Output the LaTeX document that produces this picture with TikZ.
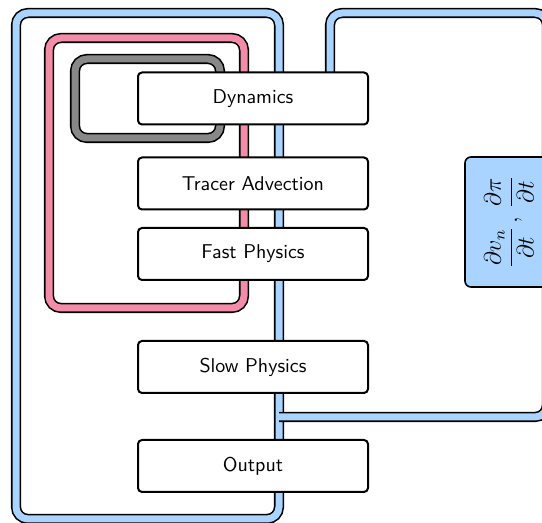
\documentclass[tikz,border=0pt]{standalone}
\usepackage{amsmath}
\usepackage{xcolor}
\usepackage{tikz}
\usetikzlibrary{positioning}
\definecolor{lblue}{HTML}{A8D4FF}
\definecolor{lpink}{HTML}{F28CA8}
\definecolor{lgray}{HTML}{888888}
\tikzset{
  sloop/.style={draw=black, line width=0.8pt, double=#1, double distance=3.5pt,
                rounded corners=6pt},
  sbox/.style={draw=black, fill=white, line width=1pt, rounded corners=2pt,
               minimum width=115pt, minimum height=26pt, font=\sffamily},
  sfrac/.style={draw=black, fill=lblue, line width=0.8pt, rounded corners=3pt,
                minimum width=65pt, minimum height=44pt, rotate=90, inner sep=2pt},
}

\begin{document}
\begin{tikzpicture}[x=0.5pt,y=0.5pt]

  \useasboundingbox (0,0) rectangle (542,523);
  \clip (0,0) rectangle (542,523);

  % outer loop (whole step) and the loop on the right
  \draw[sloop=lblue] (16,4) rectangle (279,510);
  \draw[sloop=lblue] (279,106) -- (547,106) -- (547,510) -- (330,510) -- (330,423);

  % inner loops
  \draw[sloop=lpink] (49,215) rectangle (244,485);
  \draw[sloop=lgray] (75,385) rectangle (220,464);

  % steps
  \node[sbox] (dyn)    at (253,424.5) {Dynamics};
  \node[sbox] (tracer) at (253,339.5) {Tracer Advection};
  \node[sbox] (fast)   at (253,269)   {Fast Physics};
  \node[sbox] (slow)   at (253,156)   {Slow Physics};
  \node[sbox] (out)    at (253,57)    {Output};

  % tendencies
  \node[sfrac] (tend) at (509,301)
    {\large $\dfrac{\partial v_n}{\partial t}\,,\,\dfrac{\partial \pi}{\partial t}$};

\end{tikzpicture}
\end{document}
